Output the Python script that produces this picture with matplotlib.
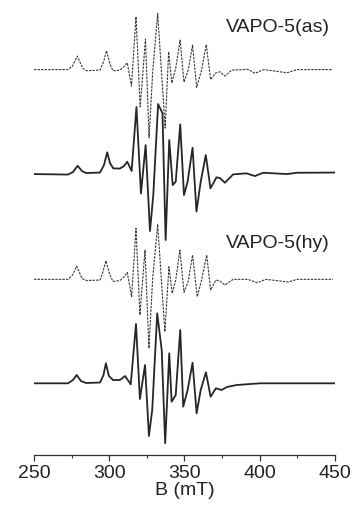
import matplotlib
matplotlib.use("Agg")
import matplotlib.pyplot as plt
from matplotlib.ticker import MultipleLocator

plt.rcParams['font.family'] = ['Liberation Sans', 'DejaVu Sans']

# VAPO-5(as), dashed trace (field in mT, intensity in a.u. relative to baseline)
as_dash_B = [250, 272.6, 275.6, 278.8, 282.4, 285.0, 293.9, 296.2, 298.2, 300.5, 302.5,
             307.1, 310.1, 312.0, 314.8, 317.8, 320.6, 324.1, 326.5, 328.9, 332.2,
             337.2, 339.5, 341.6, 344.2, 347.1, 349.7, 352.5, 355.4, 358.1, 361.4,
             364.5, 367.4, 370.6, 373.6, 376.9, 381.4, 392.4, 396.8, 402.8, 418.3,
             424.6, 448.7]
as_dash_I = [0, 0, 3.5, 13.5, 1.2, -1.2, -0.5, 7.5, 19, 5.5, -1.2,
             -0.5, 3.5, 6.8, -16.5, 52.8, -37.2, 30.5, -68, -2.5, 56.2,
             -58.5, 17.8, -13.5, 1.5, 29.5, -12.5, -0.5, 24.5, -17.8, -0.5,
             25, -10, -3.5, -2.2, -6.5, -0.5, 0.2, -3.8, 0, -3.2,
             0, 0]

# VAPO-5(as), solid trace
as_solid_B = [250, 272.6, 275.9, 279.0, 281.9, 284.6, 293.9, 296.5, 298.7, 300.5, 302.7,
              307.1, 309.8, 312.0, 314.9, 318.1, 321.1, 324.2, 327.1, 329.3, 332.5,
              335.4, 337.5, 339.9, 342.2, 344.2, 347.2, 349.7, 352.1, 355.4, 358.0,
              360.8, 364.2, 367.3, 371.3, 373.6, 376.9, 382.4, 391.3, 396.8, 402.4,
              418.3, 424.6, 450]
as_solid_I = [0, -0.5, 2, 8.3, 3, 1, 1.5, 9, 21.7, 11, 5.7,
              5.5, 8, 12.3, 3, 67, -19.3, 29, -57, -21, 70,
              61, -66, 34, -11, -7.7, 49.7, -21, -7.7, 26.3, -37.5,
              -7.7, 19, -14.3, -3.3, -4, -8.7, -0.3, 0.7, -2, 1.3,
              0, 1.3, 1.5]

# VAPO-5(hy), dashed trace
hy_dash_B = [250, 272.6, 275.6, 278.4, 281.9, 285.0, 293.9, 295.8, 297.8, 300.2, 302.5,
             307.1, 309.8, 312.0, 314.9, 317.8, 320.4, 323.8, 326.4, 328.9, 332.2,
             337.0, 339.7, 341.9, 344.2, 347.0, 349.7, 352.5, 355.4, 358.5, 361.4,
             364.8, 367.4, 370.9, 373.6, 376.9, 382.4, 392.2, 398.4, 404.2, 419.0,
             424.8, 448.7]
hy_dash_I = [0, 0, 4.3, 13.3, 0.8, -1.2, -0.7, 7.3, 18.6, 5.3, -2.2,
             -1.2, 2.3, 7, -17.4, 51, -35.7, 29.3, -69, 1, 55,
             -52.4, 12.6, -14, -0.7, 29.3, -13, -2.4, 24.3, -17.4, -0.7,
             24.3, -10.7, -0.7, -1.7, -5.7, 0, 0, -3.4, 0, -2.7,
             0, 0]

# VAPO-5(hy), solid trace
hy_solid_B = [250, 272.6, 275.9, 278.4, 281.2, 284.6, 293.9, 296.2, 297.8, 299.8, 302.5,
              307.1, 310.5, 314.3, 317.8, 320.4, 323.8, 326.4, 328.6, 331.9, 334.9,
              337.2, 339.9, 341.5, 344.2, 347.2, 349.2, 352.1, 355.4, 358.1, 360.8,
              364.3, 367.4, 370.9, 374.7, 378.2, 384.7, 400.2, 450]
hy_solid_I = [0, 0, 3.3, 8.3, 2.3, 0.3, 0.8, 8.3, 20, 7.3, 3.3,
              3.3, 7.3, -1, 59.3, -15.7, 18.3, -52.7, -26.7, 70, 33.3,
              -60, 30, -18.4, -11.7, 53.3, -23.4, -6.7, 20.6, -30, -6.7,
              11, -13.4, -5, -6.7, -3.7, -1.7, 0, 0]

offsets = [385.5, 281, 175.7, 71.7]
labels = ['VAPO-5(as)', 'VAPO-5(hy)']

fig = plt.figure(figsize=(3.54, 5.14), dpi=100)
ax = fig.add_axes([0.096, 0.1148, 0.850, 0.885])

dash = (0, (2.2, 1.0))
ax.plot(as_dash_B, [v + offsets[0] for v in as_dash_I], color='#3a3a3a', lw=0.8, ls=dash)
ax.plot(as_solid_B, [v + offsets[1] for v in as_solid_I], color='#262626', lw=1.3,
        solid_joinstyle='round')
ax.plot(hy_dash_B, [v + offsets[2] for v in hy_dash_I], color='#3a3a3a', lw=0.8, ls=dash)
ax.plot(hy_solid_B, [v + offsets[3] for v in hy_solid_I], color='#262626', lw=1.3,
        solid_joinstyle='round')

ax.text(446.5, 423, labels[0], ha='right', va='baseline', fontsize=14, color='#222222')
ax.text(446.5, 207.5, labels[1], ha='right', va='baseline', fontsize=14, color='#222222')

ax.set_xlim(250, 450)
ax.set_ylim(0, 455)
for s in ['left', 'right', 'top']:
    ax.spines[s].set_visible(False)
ax.spines['bottom'].set_color('#333333')
ax.spines['bottom'].set_linewidth(0.9)
ax.set_yticks([])
ax.xaxis.set_major_locator(MultipleLocator(50))
ax.xaxis.set_minor_locator(MultipleLocator(25))
ax.tick_params(axis='x', which='major', direction='out', length=4, width=0.9,
               color='#333333', labelsize=14, pad=3, labelcolor='#222222')
ax.tick_params(axis='x', which='minor', direction='out', length=2.2, width=0.8,
               color='#333333')
ax.set_xlabel('B (mT)', fontsize=14, labelpad=0, color='#222222')

fig.savefig('out.png', dpi=100)
